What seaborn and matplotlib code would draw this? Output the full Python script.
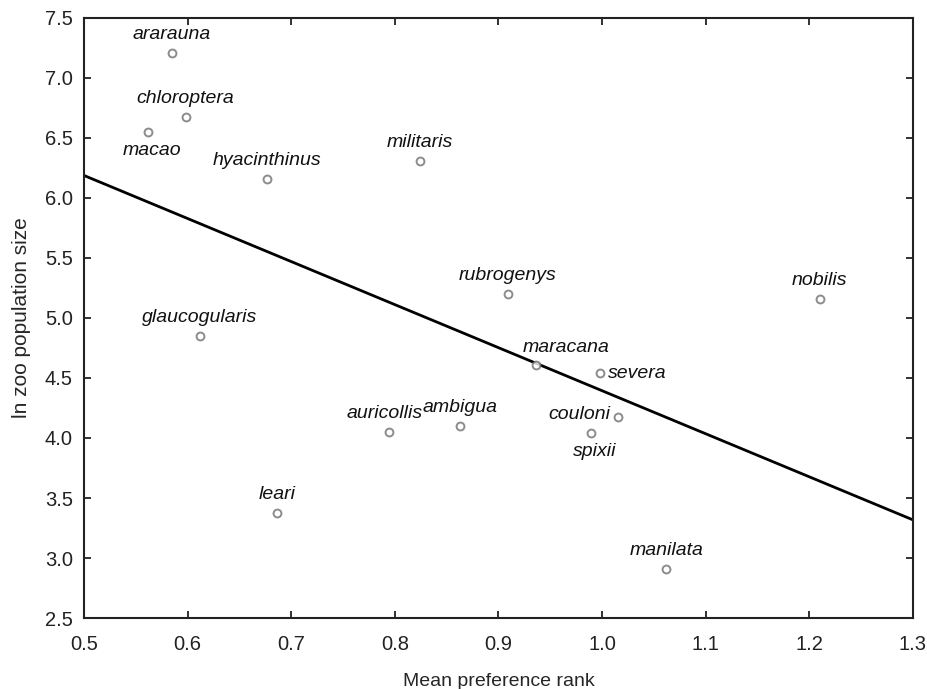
import numpy as np
import pandas as pd
import seaborn as sns
from matplotlib import pyplot as plt

species = ["ararauna", "chloroptera", "macao", "hyacinthinus", "militaris",
           "rubrogenys", "nobilis", "glaucogularis", "maracana", "severa",
           "couloni", "spixii", "ambigua", "auricollis", "leari", "manilata"]
pref_rank = [0.585, 0.598, 0.562, 0.677, 0.824, 0.909, 1.210, 0.612,
             0.936, 0.998, 1.015, 0.989, 0.863, 0.794, 0.686, 1.062]
pop_size = [7.21, 6.675, 6.55, 6.16, 6.31, 5.20, 5.16, 4.85,
            4.61, 4.54, 4.175, 4.04, 4.10, 4.05, 3.375, 2.91]
# where the name sits relative to its point
label_side = ["above", "above", "below", "above", "above", "above", "above", "above",
              "above_right", "right", "left", "below", "above", "above_left", "above", "above"]

df = pd.DataFrame({"species": species, "x": pref_rank, "y": pop_size, "side": label_side})

sns.set_theme(style="ticks")
plt.rcParams['font.family'] = ['Liberation Sans', 'DejaVu Sans']

fig = plt.figure(figsize=(9.28, 6.89), dpi=100)
ax = fig.add_axes([0.0905, 0.103, 0.8933, 0.871])
# limits first so the fitted line runs edge to edge
ax.set_xlim(0.5, 1.3)
ax.set_ylim(2.5, 7.5)

sns.regplot(data=df, x="x", y="y", ax=ax, ci=None, truncate=False,
            scatter_kws={"s": 32, "facecolors": "white", "edgecolors": "#707070",
                         "linewidths": 1.4, "zorder": 3},
            line_kws={"color": "black", "lw": 2.0, "zorder": 2})

OFFSETS = {
    "above": ((0, 7), "center", "bottom"),
    "above_left": ((-3, 7), "center", "bottom"),
    "below": ((3, -7), "center", "top"),
    "above_right": ((22, 6), "center", "bottom"),
    "right": ((6, 0), "left", "center"),
    "left": ((-5, 2), "right", "center"),
}
for _, row in df.iterrows():
    off, ha, va = OFFSETS[row["side"]]
    if row["species"] == "macao":
        off = (3, -7)
    ax.annotate(row["species"], (row["x"], row["y"]), xytext=off,
                textcoords="offset points", ha=ha, va=va,
                fontsize=14, fontstyle="italic", color="#111111")

ax.set_xlim(0.5, 1.3)
ax.set_ylim(2.5, 7.5)
ax.set_xticks(np.arange(0.5, 1.31, 0.1))
ax.set_yticks(np.arange(2.5, 7.51, 0.5))
ax.xaxis.set_major_formatter(plt.FormatStrFormatter("%.1f"))
ax.yaxis.set_major_formatter(plt.FormatStrFormatter("%.1f"))
ax.tick_params(direction="in", length=5, width=1.3, labelsize=14.5, colors="#222222",
               top=True, right=True)
ax.tick_params(axis="x", pad=12)
ax.tick_params(axis="y", pad=8)
for s in ax.spines.values():
    s.set_visible(True)
    s.set_linewidth(1.5)
    s.set_color("#222222")
ax.set_xlabel("Mean preference rank", fontsize=14, labelpad=14)
ax.set_ylabel("ln zoo population size", fontsize=15, labelpad=10)

fig.savefig("out.png", dpi=100)
